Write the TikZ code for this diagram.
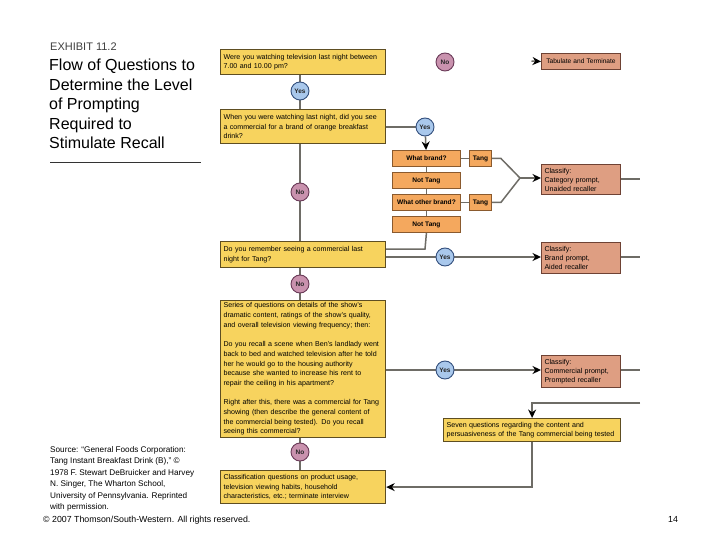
\documentclass[tikz,border=0pt]{standalone}
\usepackage{fontspec}
\setmainfont{Liberation Sans}
\usetikzlibrary{arrows.meta}
\definecolor{qyel}{HTML}{F7D35E}
\definecolor{qyelb}{HTML}{5E4E22}
\definecolor{qorg}{HTML}{F4A85E}
\definecolor{qorgb}{HTML}{8A5A2E}
\definecolor{qsal}{HTML}{DE9E82}
\definecolor{qsalb}{HTML}{6E4234}
\definecolor{qyes}{HTML}{A9C8EC}
\definecolor{qyesb}{HTML}{34507E}
\definecolor{qno}{HTML}{C992AE}
\definecolor{qnob}{HTML}{6A3A58}
\definecolor{qline}{HTML}{6E6C66}
\pgfdeclarelayer{bg}
\pgfdeclarelayer{paper}
\pgfsetlayers{paper,bg,main}
\begin{document}
\begin{tikzpicture}[x=1pt,y=-1pt,
  qbox/.style={draw=qyelb, fill=qyel, line width=1.2pt, anchor=north west, align=left,
    inner xsep=3pt, inner ysep=1pt, font=\fontsize{7.1}{9.7}\selectfont, text width=#1},
  obox/.style={draw=qorgb, fill=qorg, line width=0.9pt, anchor=north west, align=center,
    inner sep=0pt, minimum height=16pt, minimum width=#1, font=\fontsize{6.6}{8}\selectfont\bfseries},
  cbox/.style={draw=qsalb, fill=qsal, line width=1pt, anchor=north west, align=left,
    inner xsep=3pt, inner ysep=0pt, text width=73pt, minimum height=#1, font=\fontsize{7.1}{9}\selectfont},
  yesc/.style={circle, draw=qyesb, fill=qyes, line width=0.9pt, minimum size=18pt, inner sep=0pt,
    font=\fontsize{6.5}{7}\selectfont\bfseries, text=black!85},
  noc/.style={circle, draw=qnob, fill=qno, line width=0.9pt, minimum size=18pt, inner sep=0pt,
    font=\fontsize{6.5}{7}\selectfont\bfseries, text=black!85},
  conn/.style={draw=qline, line width=1.5pt},
  arr/.style={conn, -{Stealth[length=8.5pt,width=8pt,color=black]}},
  plain/.style={anchor=north west, align=left, inner sep=0pt}
]
\useasboundingbox (0,0) rectangle (720,540);
\begin{pgfonlayer}{paper}
\fill[white] (0,0) rectangle (720,540);
\end{pgfonlayer}

% title block
\node[plain, text=black!75, font=\fontsize{11}{13}\selectfont] (exh) at (50,43) {EXHIBIT 11.2};
\node[plain, font=\fontsize{16}{19.5}\selectfont] (title) at (49,59)
  {Flow of Questions to\\Determine the Level\\of Prompting\\Required to\\Stimulate Recall};
\coordinate (rl1) at (50,162);
\coordinate (rl2) at (201,162);
\draw[black!80, line width=0.8pt] (rl1) -- (rl2);

% main question boxes
\node[qbox=159pt, minimum height=25pt] (b1) at (220,49)
  {Were you watching television last night between\\7.00 and 10.00 pm?};
\node[qbox=159pt, minimum height=34pt] (b2) at (220,109)
  {When you were watching last night, did you see\\a commercial for a brand of orange breakfast\\drink?};
\node[qbox=159pt, minimum height=26pt] (b3) at (220,241)
  {Do you remember seeing a commercial last\\night for Tang?};
\node[qbox=159pt, minimum height=137pt] (b4) at (220,300)
  {Series of questions on details of the show's\\dramatic content, ratings of the show's quality,\\and overall television viewing frequency; then:\\[9.7pt]Do you recall a scene when Ben's landlady went\\back to bed and watched television after he told\\her he would go to the housing authority\\because she wanted to increase his rent to\\repair the ceiling in his apartment?\\[9.7pt]Right after this, there was a commercial for Tang\\showing (then describe the general content of\\the commercial being tested). Do you recall\\seeing this commercial?};
\node[qbox=159pt, minimum height=33pt] (b5) at (220,470)
  {Classification questions on product usage,\\television viewing habits, household\\characteristics, etc.; terminate interview};
\node[qbox=171pt, minimum height=23pt] (sv) at (443,418)
  {Seven questions regarding the content and\\persuasiveness of the Tang commercial being tested};

% circles
\node[noc] (n0) at (445,62) {No};
\node[yesc] (y1) at (300,91) {Yes};
\node[yesc] (y2) at (425,127) {Yes};
\node[noc] (n1) at (300,192) {No};
\node[yesc] (y3) at (445,257) {Yes};
\node[noc] (n2) at (300,284) {No};
\node[yesc] (y4) at (445,370) {Yes};
\node[noc] (n3) at (300,452) {No};

% orange brand boxes
\node[obox=68pt] (wb) at (392,150) {What brand?};
\node[obox=68pt] (nt1) at (392,172) {Not Tang};
\node[obox=68pt] (wob) at (392,194) {What other brand?};
\node[obox=68pt] (nt2) at (392,216) {Not Tang};
\node[obox=22pt] (tg1) at (469,150) {Tang};
\node[obox=22pt] (tg2) at (469,194) {Tang};

% classify boxes
\node[cbox=16pt, align=center, font=\fontsize{6.6}{8}\selectfont] (tab) at (541,53) {Tabulate and Terminate};
\node[cbox=30pt] (c1) at (541,164) {Classify:\\Category prompt,\\Unaided recaller};
\node[cbox=31pt] (c2) at (541,242) {Classify:\\Brand prompt,\\Aided recaller};
\node[cbox=32pt] (c3) at (541,355) {Classify:\\Commercial prompt,\\Prompted recaller};

% source and footer
\node[plain, font=\fontsize{8.2}{11.5}\selectfont] (src) at (50,446)
  {Source: “General Foods Corporation:\\Tang Instant Breakfast Drink (B),” ©\\1978 F. Stewart DeBruicker and Harvey\\N. Singer, The Wharton School,\\University of Pennsylvania. Reprinted\\with permission.};
\node[plain, font=\fontsize{8.8}{10}\selectfont] (foot) at (43,516) {© 2007 Thomson/South-Western. All rights reserved.};
\node[plain, font=\fontsize{8.8}{10}\selectfont] (pg) at (668,516) {14};

% coordinates
\coordinate (ta) at (531.5,61);
\coordinate (j1) at (425,249);
\coordinate (m) at (520,178);
\coordinate (r1) at (640,179);
\coordinate (r2) at (640,257);
\coordinate (r3) at (640,370);
\coordinate (r4) at (640,403);

\begin{pgfonlayer}{bg}
\draw[conn] (y1 |- b1.south) -- (y1) -- (y1 |- b2.north);
\draw[conn] (n1 |- b2.south) -- (n1) -- (n1 |- b3.north);
\draw[conn] (n2 |- b3.south) -- (n2) -- (n2 |- b4.north);
\draw[conn] (n3 |- b4.south) -- (n3) -- (n3 |- b5.north);
\draw[conn] (b2.east |- y2) -- (y2);
\draw[arr] (y2) -- (wb);
\draw[conn] (wb.south) -- (nt1.north);
\draw[conn] (nt1.south) -- (wob.north);
\draw[conn] (wob.south) -- (nt2.north);
\draw[conn] (nt2.south) -- (j1) -- (j1 -| b3.east);
\draw[conn] (wb.east) -- (tg1.west);
\draw[conn] (wob.east) -- (tg2.west);
\draw[conn] (tg1.east) -- ++(9,0) -- (m);
\draw[conn] (tg2.east) -- ++(9,0) -- (m);
\draw[arr] (m) -- (m -| c1.west);
\draw[conn] (c1.east |- r1) -- (r1);
\draw[conn] (b3.east |- y3) -- (y3);
\draw[arr] (y3) -- (y3 -| c2.west);
\draw[conn] (c2.east |- r2) -- (r2);
\draw[conn] (b4.east |- y4) -- (y4);
\draw[arr] (y4) -- (y4 -| c3.west);
\draw[conn] (c3.east |- r3) -- (r3);
\draw[arr] (r4) -| (sv.north);
\draw[arr] (sv.south) |- (b5.east);
\draw[arr] (ta) -- (tab.west);
\end{pgfonlayer}
\end{tikzpicture}
\end{document}
